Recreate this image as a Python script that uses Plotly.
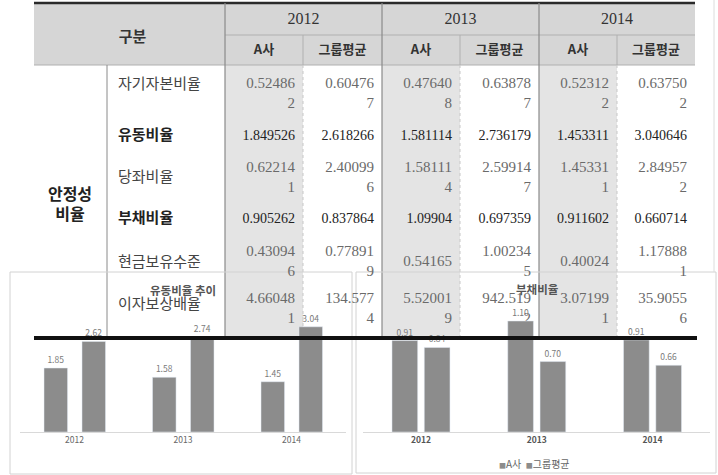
import plotly.graph_objects as go

W, H = 718, 475

# ---------------- data ----------------
years = ["2012", "2013", "2014"]
sub_cols = ["A사", "그룹평균"]
header_label = "구분"
group_label = "안정성<br>비율"
row_labels = ["자기자본비율", "유동비율", "당좌비율", "부채비율", "현금보유수준", "이자보상배율"]
bold_rows = [False, True, False, True, False, False]

# order: 2012 A, 2012 G, 2013 A, 2013 G, 2014 A, 2014 G
equity_ratio = ["0.524862", "0.604767", "0.476408", "0.638787", "0.523122", "0.637502"]
current_ratio = ["1.849526", "2.618266", "1.581114", "2.736179", "1.453311", "3.040646"]
quick_ratio = ["0.622141", "2.400996", "1.581114", "2.599147", "1.453311", "2.849572"]
debt_ratio = ["0.905262", "0.837864", "1.09904", "0.697359", "0.911602", "0.660714"]
cash_level = ["0.430946", "0.778919", "0.54165", "1.002345", "0.40024", "1.178881"]
interest_coverage = ["4.660481", "134.5774", "5.520019", "942.5192", "3.071991", "35.90556"]
table_rows = [equity_ratio, current_ratio, quick_ratio, debt_ratio, cash_level, interest_coverage]

chart1_title = "유동비율 추이"
chart2_title = "부채비율"
series_names = ["A사", "그룹평균"]

# ---------------- layout geometry (pixels) ----------------
T_LEFT, T_RIGHT = 34, 695
C_GROUP, C_LABEL = 107, 225
col_edges = [225, 303, 382, 460, 539, 617, 695]
Y_TOP, Y_HMID, Y_HBOT, Y_BOT = 3, 35, 65, 338
label_y = [85, 136, 178, 219, 263, 305]
value_y = [94, 136, 178, 219, 262, 309]

SANS = "Noto Sans CJK KR"
SERIF = "Liberation Serif"
BAR_COLOR = "#8c8c8c"

fig = go.Figure()


def add_text(xs, ys, texts, size, color, family, weight="normal", pos="middle center"):
    fig.add_trace(go.Scatter(
        x=xs, y=ys, text=texts, mode="text", textposition=pos,
        textfont=dict(size=size, color=color, family=family, weight=weight),
        hoverinfo="skip", showlegend=False, cliponaxis=False,
        xaxis="x", yaxis="y"))


# ---- table text (drawn on the bottom canvas subplot) ----
add_text([(T_LEFT + C_LABEL) / 2 + 3], [38], [header_label], 15, "#333", SANS, "bold")
add_text([(col_edges[2 * i] + col_edges[2 * i + 2]) / 2 for i in range(3)], [20] * 3,
         years, 16, "#333", SERIF)
sub_x = [(col_edges[i] + col_edges[i + 1]) / 2 for i in range(6)]
add_text(sub_x, [51] * 6, sub_cols * 3, 13, "#333", SANS, "bold")
add_text([70], [206], [group_label], 16, "#222", SANS, "bold")

for r, lab in enumerate(row_labels):
    add_text([118], [label_y[r]], [lab], 15,
             "#222" if bold_rows[r] else "#444", SANS,
             "bold" if bold_rows[r] else "normal", "middle right")

for r, vals in enumerate(table_rows):
    xs = [col_edges[i + 1] - 8 for i in range(6)]
    if bold_rows[r]:
        add_text(xs, [value_y[r]] * 6, vals, 14, "#222", SERIF, "normal", "middle left")
    else:
        texts = [v if len(v) <= 7 else v[:7] + "<br>" + v[7:] for v in vals]
        add_text(xs, [value_y[r]] * 6, texts, 15, "#6a6a6a", SERIF, "normal", "middle left")

# ---- chart 1: 유동비율 추이 ----
c1_a = [float(current_ratio[i]) for i in (0, 2, 4)]
c1_g = [float(current_ratio[i]) for i in (1, 3, 5)]
# ---- chart 2: 부채비율 ----
c2_a = [float(debt_ratio[i]) for i in (0, 2, 4)]
c2_g = [float(debt_ratio[i]) for i in (1, 3, 5)]

bar_text = dict(size=8.5, color="#7a7a7a", family=SANS)
for vals, off in [(c1_a, -0.281), (c1_g, 0.069)]:
    fig.add_trace(go.Bar(x=years, y=vals, width=0.217, offset=off, marker_color=BAR_COLOR,
                         texttemplate="%{y:.2f}", textposition="outside", textfont=bar_text,
                         cliponaxis=False, showlegend=False, xaxis="x2", yaxis="y2"))
for vals, off, name in [(c2_a, -0.2505, series_names[0]), (c2_g, 0.0285, series_names[1])]:
    fig.add_trace(go.Bar(x=years, y=vals, width=0.222, offset=off, marker_color=BAR_COLOR,
                         name=name, texttemplate="%{y:.2f}", textposition="outside",
                         textfont=bar_text, cliponaxis=False, showlegend=False,
                         xaxis="x3", yaxis="y3"))

# ---- shapes ----
shapes = []


def rect(x0, y0, x1, y1, fill=None, line=None, lw=1, layer="below"):
    shapes.append(dict(type="rect", xref="x", yref="y", x0=x0, y0=y0, x1=x1, y1=y1,
                       fillcolor=fill or "rgba(0,0,0,0)",
                       line=dict(color=line or "rgba(0,0,0,0)", width=lw if line else 0),
                       layer=layer))


def line(x0, y0, x1, y1, color, lw=1, dash="solid", layer="below"):
    shapes.append(dict(type="line", xref="x", yref="y", x0=x0, y0=y0, x1=x1, y1=y1,
                       line=dict(color=color, width=lw, dash=dash), layer=layer))


rect(T_LEFT, Y_TOP, T_RIGHT, Y_HBOT, fill="#d6d6d6")
for i in (0, 2, 4):
    rect(col_edges[i], Y_HBOT, col_edges[i + 1], Y_BOT, fill="#e4e4e4")
line(T_LEFT, Y_TOP, T_RIGHT, Y_TOP, "#2a2a2a", 2.5)
line(C_LABEL, Y_HMID, T_RIGHT, Y_HMID, "#b0b0b0", 1)
line(T_LEFT, Y_HBOT, T_RIGHT, Y_HBOT, "#b0b0b0", 1)
for x in (C_LABEL, col_edges[2], col_edges[4]):
    line(x, Y_TOP, x, Y_BOT, "#8a8a8a", 1.2)
for x in (col_edges[1], col_edges[3], col_edges[5]):
    line(x, Y_HMID, x, Y_HBOT, "#b0b0b0", 1)
    line(x, Y_HBOT, x, Y_BOT, "#c8c8c8", 1, "dot")
line(C_GROUP, Y_HBOT, C_GROUP, Y_BOT, "#8a8a8a", 1)
# chart frames
rect(10, 272, 352, 474, line="#d2d2d2", lw=1)
rect(356, 272, 716, 473, line="#d2d2d2", lw=1)
line(714, 0, 714, 272, "#dcdcdc", 1)
# thick bottom rule of the table (drawn above the bars)
line(T_LEFT, Y_BOT, 697, Y_BOT, "#111", 4, layer="above")

# ---- annotations ----
ann = [
    dict(x=183, y=290, text=chart1_title, font=dict(size=11.5, color="#555", family=SANS, weight="bold")),
    dict(x=537, y=289, text=chart2_title, font=dict(size=11.5, color="#555", family=SANS, weight="bold")),
    dict(x=534, y=463,
         text=f"<span style='color:{BAR_COLOR};font-size:7px'>■</span>{series_names[0]}  "
              f"<span style='color:{BAR_COLOR};font-size:7px'>■</span>{series_names[1]}",
         font=dict(size=10, color="#666", family=SANS)),
]
for a in ann:
    a.update(xref="x", yref="y", showarrow=False, xanchor="center", yanchor="middle")


# ---- axes ----
def xdom(a, b):
    return [a / W, b / W]


def ydom(top, bottom):
    return [1 - bottom / H, 1 - top / H]


fig.update_layout(
    width=W, height=H, margin=dict(l=0, r=0, t=0, b=0),
    paper_bgcolor="white", plot_bgcolor="rgba(0,0,0,0)",
    barmode="overlay", showlegend=False,
    shapes=shapes, annotations=ann,
    xaxis=dict(domain=[0, 1], range=[0, W], visible=False, fixedrange=True),
    yaxis=dict(domain=[0, 1], range=[H, 0], visible=False, fixedrange=True),
    xaxis2=dict(domain=xdom(20.25, 345.75), anchor="y2", type="category",
                range=[-0.5, 2.5], showline=True, linecolor="#d9d9d9", linewidth=1,
                showgrid=False, ticks="", tickfont=dict(size=8.5, color="#666", family=SANS),
                zeroline=False),
    yaxis2=dict(domain=ydom(272, 432), anchor="x2", range=[0, 160 / 34.6], visible=False),
    xaxis3=dict(domain=xdom(363.1, 710.4), anchor="y3", type="category",
                range=[-0.5, 2.5], showline=True, linecolor="#d9d9d9", linewidth=1,
                showgrid=False, ticks="",
                tickfont=dict(size=8.5, color="#555", family=SANS, weight="bold"),
                zeroline=False),
    yaxis3=dict(domain=ydom(272, 432), anchor="x3", range=[0, 160 / 101.0], visible=False),
)

fig.write_html("out.html", config={"displayModeBar": False},
               post_script="document.body.style.margin='0';document.body.style.padding='0';")
